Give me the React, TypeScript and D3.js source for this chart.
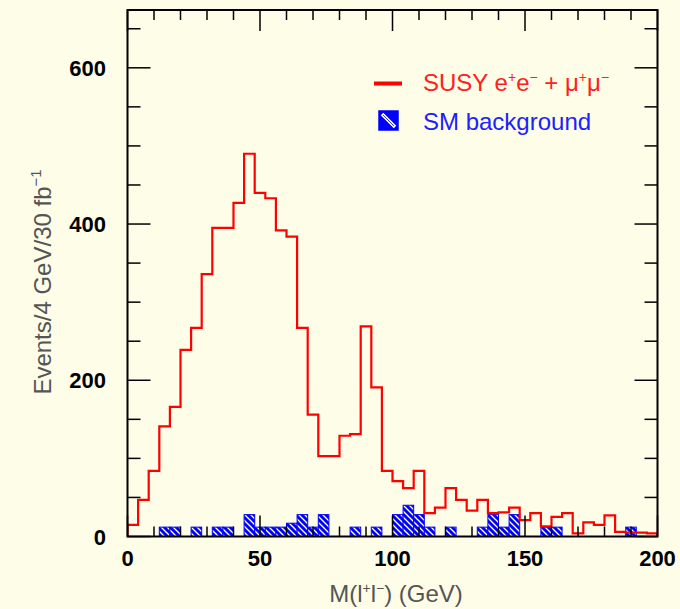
import React from "react";
import * as d3 from "d3";

// SUSY e+e- + mu+mu- histogram, 4 GeV bins from 0 to 200 GeV
const susyCounts = [
  15, 47, 84, 141, 166, 239, 267, 336, 395, 395,
  427, 490, 440, 433, 392, 384, 267, 156, 103, 103,
  129, 131, 269, 191, 84, 71, 62, 84, 30, 37,
  62, 47, 33, 47, 30, 31, 37, 21, 30, 13,
  25, 30, 4, 18, 15, 27, 6, 5, 5, 4,
];
// SM background histogram (same binning)
const smCounts = [
  0, 0, 0, 12, 12, 0, 12, 0, 12, 12,
  0, 28, 12, 12, 12, 17, 28, 12, 28, 0,
  0, 12, 0, 12, 0, 28, 40, 28, 12, 0,
  12, 0, 0, 12, 28, 12, 28, 0, 0, 12,
  12, 0, 0, 0, 0, 0, 0, 12, 0, 0,
];
const binWidth = 4;
const xTickLabels = [0, 50, 100, 150, 200];
const yTickLabels = [0, 200, 400, 600];
const legendSusy = "SUSY";
const legendSM = "SM background";

const W = 680;
const H = 609;
const FRAME = { left: 127.5, right: 657.5, top: 10, bottom: 536.5 };
const BG = "#fdfde8";
const FONT = "'Liberation Sans', Arial, Helvetica, sans-serif";

export default function App() {
  const x = d3.scaleLinear().domain([0, 200]).range([FRAME.left, FRAME.right]);
  const y = d3.scaleLinear().domain([0, 674]).range([FRAME.bottom, FRAME.top]);

  const pts: [number, number][] = [[0, 0]];
  susyCounts.forEach((v, i) => pts.push([i * binWidth, v]));
  pts.push([susyCounts.length * binWidth, susyCounts[susyCounts.length - 1]]);
  pts.push([susyCounts.length * binWidth, 0]);
  const line = d3
    .line<[number, number]>()
    .x((d) => x(d[0]))
    .y((d) => y(d[1]))
    .curve(d3.curveStepAfter);

  const xMinor = d3.range(0, 201, 10);
  const yMinor = d3.range(0, 674, 50);

  return (
    <div style={{ position: "absolute", left: 0, top: 0 }}>
      <svg width={W} height={H} style={{ display: "block" }}>
        <defs>
          <pattern id="hatch" patternUnits="userSpaceOnUse" width="6" height="6">
            <rect width="6" height="6" fill="#0000ff" />
            <path d="M0,0 L6,6 M-1,5 L1,7 M5,-1 L7,1" stroke="#ffffff" strokeWidth="1.3" />
          </pattern>
          <clipPath id="plotclip">
            <rect x={FRAME.left} y={FRAME.top} width={FRAME.right - FRAME.left} height={FRAME.bottom - FRAME.top} />
          </clipPath>
        </defs>
        <rect x={0} y={0} width={W} height={H} fill={BG} />

        {/* SM background bars */}
        <g clipPath="url(#plotclip)">
          {smCounts.map((v, i) =>
            v > 0 ? (
              <rect
                key={i}
                x={x(i * binWidth)}
                y={y(v)}
                width={x((i + 1) * binWidth) - x(i * binWidth)}
                height={y(0) - y(v)}
                fill="url(#hatch)"
                stroke="#0000ff"
                strokeWidth={1}
              />
            ) : null
          )}
          {/* SUSY histogram */}
          <path d={line(pts) || ""} fill="none" stroke="#ff0000" strokeWidth={2.2} />
        </g>

        {/* ticks */}
        <g stroke="#000" strokeWidth={1.5}>
          {xMinor.map((t) => {
            const major = t % 50 === 0;
            const len = major ? 21 : 10;
            return (
              <g key={"x" + t}>
                <line x1={x(t)} x2={x(t)} y1={FRAME.bottom} y2={FRAME.bottom - len} />
                <line x1={x(t)} x2={x(t)} y1={FRAME.top} y2={FRAME.top + len} />
              </g>
            );
          })}
          {yMinor.map((t) => {
            const major = t % 200 === 0;
            const len = major ? 23 : 13;
            return (
              <g key={"y" + t}>
                <line x1={FRAME.left} x2={FRAME.left + len} y1={y(t)} y2={y(t)} />
                <line x1={FRAME.right} x2={FRAME.right - len} y1={y(t)} y2={y(t)} />
              </g>
            );
          })}
        </g>
        <rect
          x={FRAME.left}
          y={FRAME.top}
          width={FRAME.right - FRAME.left}
          height={FRAME.bottom - FRAME.top}
          fill="none"
          stroke="#000"
          strokeWidth={2}
        />

        {/* tick labels */}
        <g fontFamily={FONT} fontWeight="bold" fontSize={22} fill="#000">
          {yTickLabels.map((t) => (
            <text key={"yl" + t} x={106} y={y(t) + 8} textAnchor="end">
              {t}
            </text>
          ))}
          {xTickLabels.map((t) => (
            <text key={"xl" + t} x={x(t)} y={566} textAnchor="middle">
              {t}
            </text>
          ))}
        </g>

        {/* axis titles */}
        <text
          x={396}
          y={602}
          textAnchor="middle"
          fontFamily={FONT}
          fontSize={24}
          fill="#555"
        >
          M(l<tspan dy={-9} fontSize={14}>+</tspan>
          <tspan dy={9}>l</tspan>
          <tspan dy={-9} fontSize={14}>−</tspan>
          <tspan dy={9}>) (GeV)</tspan>
        </text>
        <text
          transform={`translate(51,282) rotate(-90)`}
          textAnchor="middle"
          fontFamily={FONT}
          fontSize={24}
          fill="#555"
        >
          Events/4 GeV/30 fb<tspan dy={-10} fontSize={15}>−1</tspan>
        </text>

        {/* legend */}
        <line x1={374} x2={402} y1={83.5} y2={83.5} stroke="#ff0000" strokeWidth={4} />
        <text x={423} y={91} fontFamily={FONT} fontSize={24} fill="#ff2020">
          {legendSusy} e<tspan dy={-9} fontSize={14}>+</tspan>
          <tspan dy={9}>e</tspan>
          <tspan dy={-9} fontSize={14}>−</tspan>
          <tspan dy={9}> + μ</tspan>
          <tspan dy={-9} fontSize={14}>+</tspan>
          <tspan dy={9}>μ</tspan>
          <tspan dy={-9} fontSize={14}>−</tspan>
        </text>
        <rect x={379} y={111} width={19} height={19} fill="#0000ff" stroke="#0000ff" strokeWidth={1.5} />
        <line x1={382} y1={114} x2={395} y2={127} stroke="#ffffff" strokeWidth={3.5} />
        <line x1={383} y1={115} x2={394} y2={126} stroke="#0000ff" strokeWidth={0.8} />
        <text x={423} y={130} fontFamily={FONT} fontSize={24} fill="#2020ff">
          {legendSM}
        </text>
      </svg>
    </div>
  );
}
